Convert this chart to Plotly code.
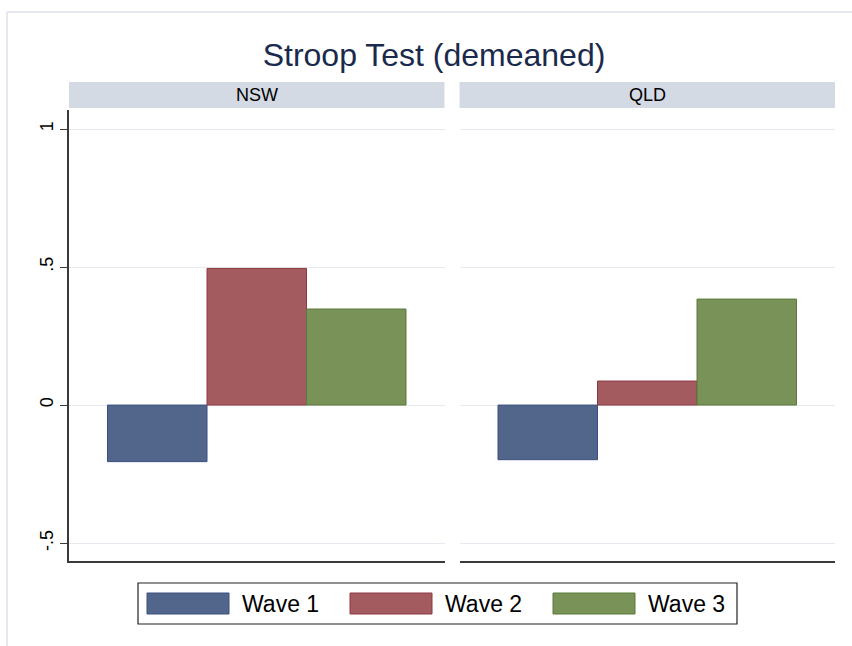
import plotly.graph_objects as go
from plotly.subplots import make_subplots

# ---- data ----
panels = ["NSW", "QLD"]
waves = ["Wave 1", "Wave 2", "Wave 3"]
nsw_values = [-0.205, 0.495, 0.348]
qld_values = [-0.198, 0.087, 0.384]
panel_values = [nsw_values, qld_values]
ytick_vals = [-0.5, 0, 0.5, 1]
ytick_text = ["-.5", "0", ".5", "1"]
title_text = "Stroop Test (demeaned)"

# ---- styles ----
fill_colors = ["#52668c", "#a45b5f", "#789257"]
line_colors = ["#3b5080", "#8c3a42", "#5b7a3c"]
grid_color = "#e6e9ef"
axis_color = "#3a3a3a"
strip_color = "#d4dae4"
FONT = "Liberation Sans, Arial, sans-serif"

W, H = 852, 646
L, R, T, B = 69, 17, 110, 85
pw = W - L - R
ph = H - T - B


def px(x):
    return (x - L) / pw


def py(y):
    return (H - B - y) / ph


fig = make_subplots(rows=1, cols=2, shared_yaxes=True,
                    horizontal_spacing=15 / pw)

for ci, (panel, vals) in enumerate(zip(panels, panel_values)):
    for wi, wave in enumerate(waves):
        fig.add_trace(
            go.Bar(
                x=[panel], y=[vals[wi]], name=wave,
                marker=dict(color=fill_colors[wi],
                            line=dict(color=line_colors[wi], width=1)),
                showlegend=False, offsetgroup=str(wi),
            ),
            row=1, col=ci + 1,
        )

fig.update_layout(
    width=W, height=H,
    margin=dict(l=L, r=R, t=T, b=B),
    paper_bgcolor="white", plot_bgcolor="white",
    barmode="group", bargap=0.205, bargroupgap=0,
    font=dict(family=FONT, color="black"),
    title=dict(text=title_text, x=434 / W, xanchor="center",
               y=1 - 55 / H, yanchor="middle", xref="container", yref="container",
               font=dict(size=32, color="#1a2a4c", family=FONT)),
)

for ci in (1, 2):
    fig.update_xaxes(row=1, col=ci, range=[-0.5, 0.5], showticklabels=False,
                     ticks="", showgrid=False, showline=True,
                     linecolor=axis_color, linewidth=1.5, zeroline=False)
    fig.update_yaxes(row=1, col=ci, range=[-0.565, 1.069],
                     tickvals=ytick_vals, ticktext=ytick_text,
                     showgrid=True, gridcolor=grid_color, gridwidth=1,
                     zeroline=False)

fig.update_yaxes(row=1, col=1, tickangle=-90, ticks="outside", ticklen=7,
                 tickcolor=axis_color, tickwidth=1, showline=True,
                 linecolor=axis_color, linewidth=1.5,
                 tickfont=dict(size=18, color="black", family=FONT))
fig.update_yaxes(row=1, col=2, ticks="", showline=False, showticklabels=False)

shapes = []
annotations = []

# outer frame lines (graph region outline)
shapes.append(dict(type="line", xref="paper", yref="paper",
                   x0=px(7), x1=px(W + 5), y0=py(12), y1=py(12),
                   line=dict(color="#dde2ea", width=1.5)))
shapes.append(dict(type="line", xref="paper", yref="paper",
                   x0=px(7), x1=px(7), y0=py(12), y1=py(H + 5),
                   line=dict(color="#dde2ea", width=1.5)))

# strips
dom1 = fig.layout.xaxis.domain
dom2 = fig.layout.xaxis2.domain
for panel, dom in zip(panels, [dom1, dom2]):
    shapes.append(dict(type="rect", xref="paper", yref="paper",
                       x0=dom[0], x1=dom[1], y0=py(108), y1=py(82),
                       fillcolor=strip_color, line=dict(width=0)))
    annotations.append(dict(text=panel, xref="paper", yref="paper",
                            x=(dom[0] + dom[1]) / 2, y=py(95),
                            xanchor="center", yanchor="middle", showarrow=False,
                            font=dict(size=18, color="black", family=FONT)))

# legend box
shapes.append(dict(type="rect", xref="paper", yref="paper",
                   x0=px(138), x1=px(737), y0=py(624), y1=py(583),
                   fillcolor="white", line=dict(color="#222222", width=1.2)))
sw_left = [147, 350, 553]
for wi, wave in enumerate(waves):
    x0 = sw_left[wi]
    shapes.append(dict(type="rect", xref="paper", yref="paper",
                       x0=px(x0), x1=px(x0 + 82), y0=py(614), y1=py(593),
                       fillcolor=fill_colors[wi],
                       line=dict(color=line_colors[wi], width=1)))
    annotations.append(dict(text=wave, xref="paper", yref="paper",
                            x=px(x0 + 93), y=py(604),
                            xanchor="left", yanchor="middle", showarrow=False,
                            font=dict(size=23, color="black", family=FONT)))

fig.update_layout(shapes=shapes, annotations=annotations)

fig.write_html("out.html", config={"displayModeBar": False},
               post_script="document.body.style.margin='0';document.body.style.padding='0';")
